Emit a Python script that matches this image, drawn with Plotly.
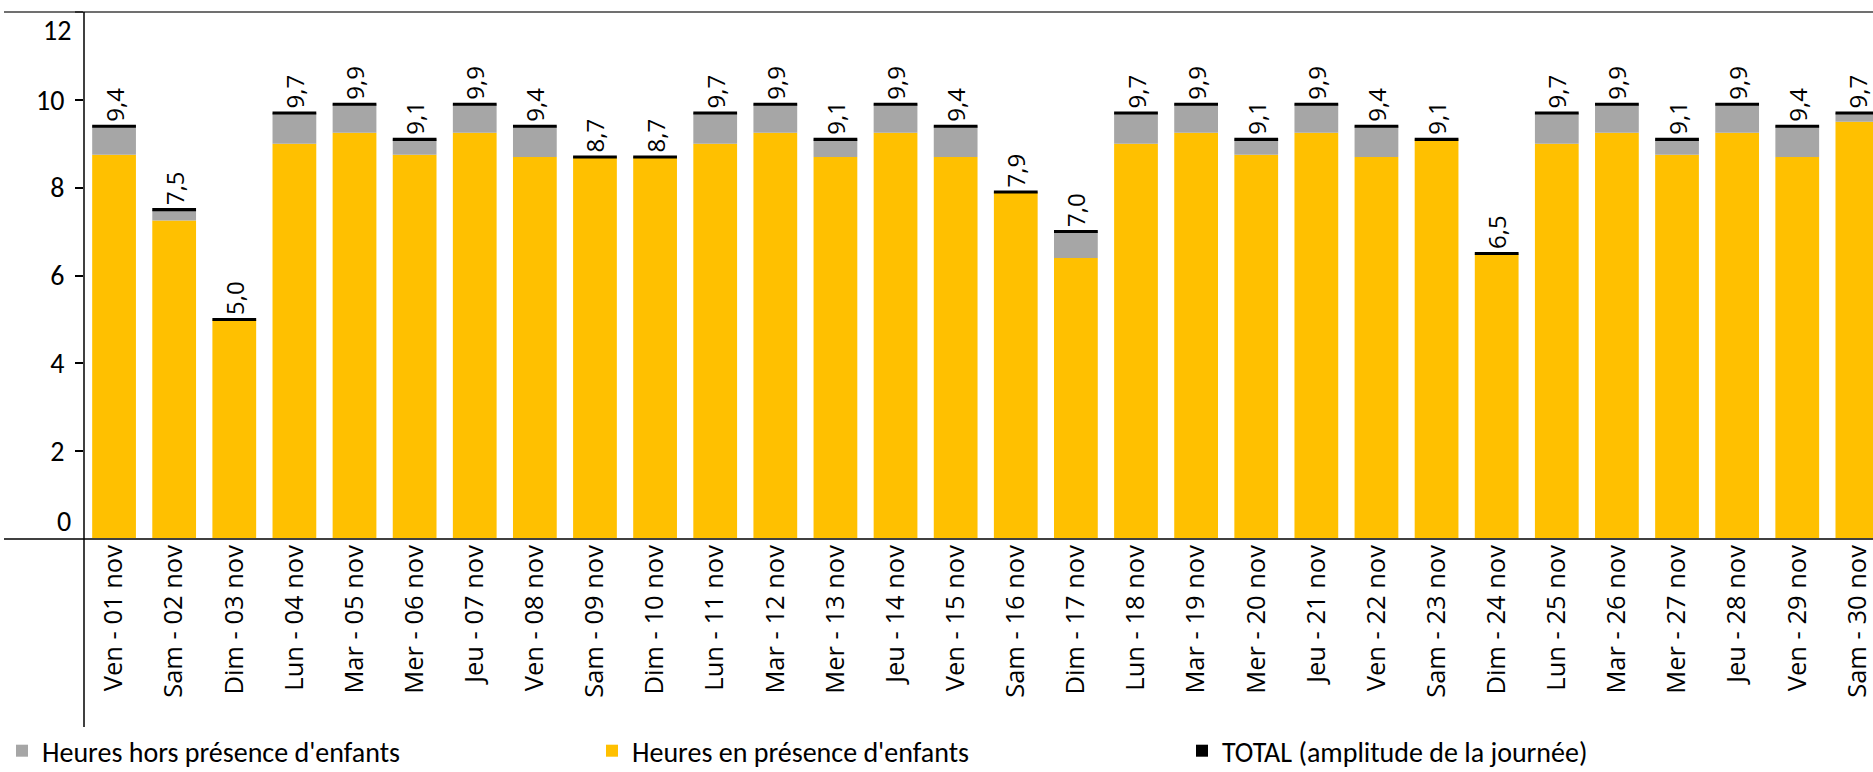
import plotly.graph_objects as go

jours = ["Ven - 01 nov", "Sam - 02 nov", "Dim - 03 nov", "Lun - 04 nov", "Mar - 05 nov",
         "Mer - 06 nov", "Jeu - 07 nov", "Ven - 08 nov", "Sam - 09 nov", "Dim - 10 nov",
         "Lun - 11 nov", "Mar - 12 nov", "Mer - 13 nov", "Jeu - 14 nov", "Ven - 15 nov",
         "Sam - 16 nov", "Dim - 17 nov", "Lun - 18 nov", "Mar - 19 nov", "Mer - 20 nov",
         "Jeu - 21 nov", "Ven - 22 nov", "Sam - 23 nov", "Dim - 24 nov", "Lun - 25 nov",
         "Mar - 26 nov", "Mer - 27 nov", "Jeu - 28 nov", "Ven - 29 nov", "Sam - 30 nov"]

heures_presence = [8.75, 7.25, 5.0, 9.0, 9.25, 8.75, 9.25, 8.7, 8.7, 8.7,
                   9.0, 9.25, 8.7, 9.25, 8.7, 7.9, 6.4, 9.0, 9.25, 8.75,
                   9.25, 8.7, 9.1, 6.5, 9.0, 9.25, 8.75, 9.25, 8.7, 9.5]

total = [9.4, 7.5, 5.0, 9.7, 9.9, 9.1, 9.9, 9.4, 8.7, 8.7,
         9.7, 9.9, 9.1, 9.9, 9.4, 7.9, 7.0, 9.7, 9.9, 9.1,
         9.9, 9.4, 9.1, 6.5, 9.7, 9.9, 9.1, 9.9, 9.4, 9.7]

y_ticks = [0, 2, 4, 6, 8, 10, 12]

heures_hors = [round(t - p, 3) for t, p in zip(total, heures_presence)]
total_labels = [f"{t:.1f}".replace(".", ",") for t in total]
marker_h = 0.07
total_base = [t - marker_h / 2 for t in total]

NARROW = "Carlito, 'Liberation Sans Narrow', Lato, sans-serif"
LABEL = "'Open Sans', 'Noto Sans', sans-serif"

W, H = 1873, 772
L, R, T, B = 84, 0, 12, 233
pw = W - L - R
ph = H - T - B

y_min, y_max = y_ticks[0], y_ticks[-1]
# end labels (0 and 12) are drawn nudged inward, as in the reference
inner_text = [str(v) if y_min < v < y_max else "" for v in y_ticks]

fig = go.Figure()

fig.add_trace(go.Bar(
    x=jours, y=heures_presence, base=0,
    name="Heures en présence d'enfants",
    marker=dict(color="#FFC000", line=dict(width=0)),
    legendrank=2, hoverinfo="skip",
))
fig.add_trace(go.Bar(
    x=jours, y=heures_hors, base=heures_presence,
    name="Heures hors présence d'enfants",
    marker=dict(color="#A6A6A6", line=dict(width=0)),
    legendrank=1, hoverinfo="skip",
))
fig.add_trace(go.Bar(
    x=jours, y=[marker_h] * len(total), base=total_base,
    name="TOTAL (amplitude de la journée)",
    marker=dict(color="#000000", line=dict(width=0)),
    text=total_labels, textposition="outside", textangle=-90,
    constraintext="none", cliponaxis=False,
    textfont=dict(family=LABEL, size=24, color="#000000"),
    legendrank=3, hoverinfo="skip",
))

annotations = [
    dict(xref="paper", yref="y", x=0, y=y_max, text=str(y_max), showarrow=False,
         xanchor="right", yanchor="middle", xshift=-11, yshift=-18,
         font=dict(family=NARROW, size=28, color="#000000")),
    dict(xref="paper", yref="y", x=0, y=y_min, text=str(y_min), showarrow=False,
         xanchor="right", yanchor="middle", xshift=-11, yshift=18,
         font=dict(family=NARROW, size=28, color="#000000")),
]

x_left = (4 - L) / pw
fig.update_layout(
    width=W, height=H,
    margin=dict(l=L, r=R, t=T, b=B, pad=0, autoexpand=False),
    barmode="overlay", bargap=0.272,
    plot_bgcolor="white", paper_bgcolor="white",
    showlegend=True,
    legend=dict(
        orientation="h", x=(2 - L) / pw, xanchor="left",
        y=(ph - (751 - T)) / ph, yanchor="middle",
        font=dict(family=NARROW, size=28, color="#000000"),
        entrywidth=545, entrywidthmode="pixels",
        bgcolor="rgba(0,0,0,0)", traceorder="normal",
    ),
    xaxis=dict(
        type="category", range=[-0.5, 29.26], automargin=False,
        showgrid=False, zeroline=False, showline=False,
        ticks="", tickangle=-90,
        tickfont=dict(family=LABEL, size=25.5, color="#000000"),
        fixedrange=True,
    ),
    yaxis=dict(
        range=[y_min, y_max], tickvals=y_ticks, ticktext=inner_text,
        automargin=False,
        showgrid=False, zeroline=False, showline=False,
        ticks="outside", ticklen=8, tickwidth=1.5, tickcolor="#000000",
        ticklabelstandoff=5,
        tickfont=dict(family=NARROW, size=28, color="#000000"),
        fixedrange=True,
    ),
    annotations=annotations,
    shapes=[
        dict(type="line", xref="paper", yref="paper", x0=x_left, x1=1, y0=1, y1=1,
             line=dict(color="#404040", width=1.5), layer="above"),
        dict(type="line", xref="paper", yref="paper", x0=x_left, x1=1, y0=0, y1=0,
             line=dict(color="#404040", width=2), layer="above"),
        dict(type="line", xref="paper", yref="paper", x0=0, x1=0, y0=1,
             y1=-(727 - T - ph) / ph, line=dict(color="#000000", width=1.5), layer="above"),
    ],
)

fig.write_html("out.html", config={"displayModeBar": False},
               post_script="document.body.style.margin='0';document.body.style.overflow='hidden';")
